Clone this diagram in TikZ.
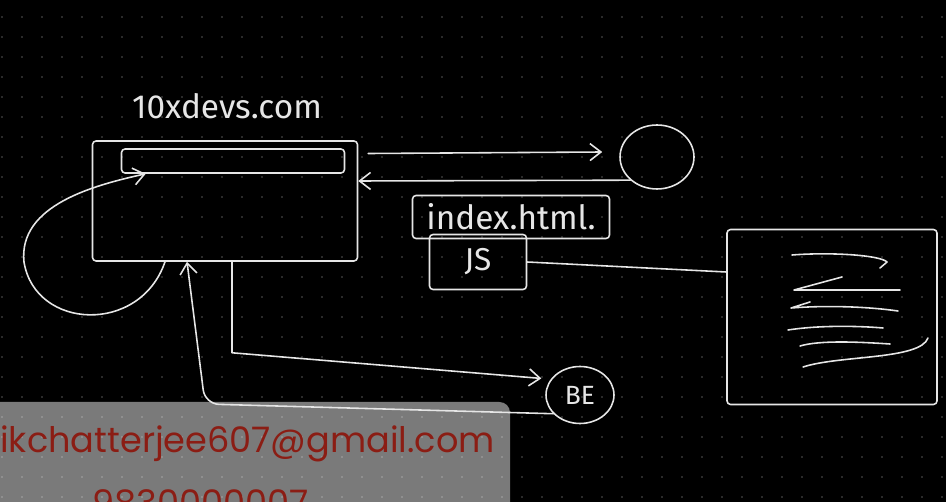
\documentclass[tikz,border=0pt]{standalone}
\usepackage{fontspec}
\setmainfont{Poppins}
\newfontfamily\handfont{Fira Sans}
\usepackage{tikz}
\usetikzlibrary{arrows.meta,positioning,calc,shapes.geometric}
\definecolor{cBg}{HTML}{000000}
\definecolor{cDot}{HTML}{3A3A3A}
\definecolor{cInk}{HTML}{E6E6E6}
\definecolor{cMail}{HTML}{8B1D14}
\tikzset{
  ink/.style    = {draw=cInk, line width=0.9pt, line cap=round, line join=round},
  box/.style    = {rectangle, ink, inner sep=0pt, rounded corners=2pt},
  bubble/.style = {ellipse, ink, inner sep=0pt},
  hand/.style   = {text=cInk, font=\handfont\fontsize{15}{18}\selectfont},
  bighand/.style = {hand, font=\handfont\fontsize{19}{22}\selectfont},
  arr/.style    = {ink, -{Straight Barb[length=2.2mm,width=3.4mm]}},
  mail/.style   = {text=cMail, inner sep=0pt, font=\fontsize{20}{24}\selectfont},
}
\begin{document}
\begin{tikzpicture}[x=0.02cm, y=-0.02cm]
      % ---- page, dotted board ----
      \useasboundingbox (0,0) rectangle (946,502);
      \clip (0,0) rectangle (946,502);
      \fill[cBg] (0,0) rectangle (946,502);
      \foreach \i in {0,...,47}
        \foreach \j in {0,...,25}
          \fill[cDot] (2+20*\i,17+20*\j) circle (0.6pt);
      \fill[white, fill opacity=0.48, rounded corners=6pt] (-20,402) rectangle (510,540);

      % ---- browser ----
      \node[box, minimum width=5.3cm, minimum height=2.4cm] (browser) at (225,201) {};
      \node[box, minimum width=4.46cm, minimum height=0.48cm] (bar) at (233,161) {};
      \node[bighand] (site) at (227,106) {10xdevs.com};

      % ---- server and what it sends ----
      \node[bubble, minimum width=1.48cm, minimum height=1.28cm] (server) at (657,157) {};
      \node[box, bighand, minimum width=3.94cm, minimum height=0.86cm] (index) at (511,217) {index.html.};
      \node[box, hand, font=\handfont\fontsize{18}{20}\selectfont,
            minimum width=1.94cm, minimum height=1.1cm] (js) at (478,262) {JS};

      % ---- rendered page ----
      \node[box, minimum width=4.2cm, minimum height=3.5cm] (doc) at (832,317) {};
      \draw[ink] (792,255) .. controls (830,252) and (880,255) .. (887,262) -- (880,268);
      \draw[ink] (842,277) -- (794,290) -- (900,290);
      \draw[ink] (810,302) -- (791,308) .. controls (830,305) and (870,307) .. (898,311);
      \draw[ink] (788,330) .. controls (820,325) and (860,326) .. (883,328);
      \draw[ink] (800,346) .. controls (820,340) and (860,342) .. (890,344);
      \draw[ink] (803,367) .. controls (840,355) and (920,360) .. (928,338);

      % ---- backend ----
      \node[bubble, hand, minimum width=1.36cm, minimum height=1.14cm] (be) at (580,395) {BE};

      % ---- flows ----
      \draw[arr] ([xshift=0.2cm, yshift=0.95cm]browser.east) -- ([xshift=-0.34cm, yshift=0.1cm]server.west);
      \draw[arr] (server.south west) -- ([yshift=0.4cm]browser.east);
      \draw[arr] ([xshift=-1.2cm]browser.south) .. controls (140,335) and (35,330) .. (24,262)
                 .. controls (18,205) and (95,185) .. ([xshift=0.5cm]bar.south west);
      \draw[ink] (js.east) -- ([yshift=-0.2cm]doc.west |- js.east);
      \draw[arr] ([xshift=0.14cm]browser.south) -- ++(0,91) -- ([xshift=-0.2cm]be.150);
      \draw[arr, rounded corners=8pt] (be.215) -- (205,404) -- ([xshift=-0.76cm]browser.south);

      % ---- contact panel ----
      \node[mail, anchor=base west] (email) at (0,453) {ikchatterjee607@gmail.com};
      \node[mail, anchor=base west] (phone) at (92,516) {9830000007};
    \end{tikzpicture}
\end{document}
